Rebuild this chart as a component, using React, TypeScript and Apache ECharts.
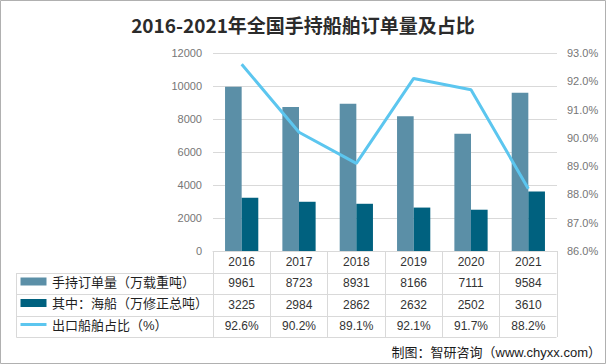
import React, { useEffect, useRef } from "react";
import * as echarts from "echarts";

const years = ["2016", "2017", "2018", "2019", "2020", "2021"];
const orderBook = [9961, 8723, 8931, 8166, 7111, 9584];
const seaShips = [3225, 2984, 2862, 2632, 2502, 3610];
const exportShare = [92.6, 90.2, 89.1, 92.1, 91.7, 88.2];

const seriesNames = ["手持订单量（万载重吨）", "其中：海船（万修正总吨）", "出口船舶占比（%）"];
const titleText = "2016-2021年全国手持船舶订单量及占比";
const sourceText = "制图：智研咨询（www.chyxx.com）";

const leftAxis = { min: 0, max: 12000, interval: 2000 };
const rightAxis = { min: 86, max: 93, interval: 1 };

const C_LIGHT = "#5b8fa7";
const C_DARK = "#00617f";
const C_LINE = "#5cc6ef";
const C_GRID = "#d9d9d9";
const FONT = "'Liberation Sans','Noto Sans CJK SC',sans-serif";

export default function App() {
  const ref = useRef<HTMLDivElement>(null);
  useEffect(() => {
    document.body.style.margin = "0";
    const chart = echarts.init(ref.current!, null, { renderer: "svg" });
    const option: any = {
      animation: false,
      backgroundColor: "#ffffff",
      grid: { left: 213, right: 49, top: 53, bottom: 113, containLabel: false },
      xAxis: {
        type: "category",
        data: years,
        axisLine: { show: true, lineStyle: { color: C_GRID, width: 1 } },
        axisTick: { show: true, length: 86, lineStyle: { color: C_GRID, width: 1 } },
        axisLabel: { margin: 5, color: "#333", fontSize: 12, fontFamily: FONT },
      },
      yAxis: [
        {
          type: "value",
          ...leftAxis,
          axisLine: { show: false },
          axisTick: { show: false },
          splitLine: { show: true, lineStyle: { color: C_GRID, width: 1 } },
          axisLabel: {
            margin: 11,
            color: "#767676",
            fontSize: 11,
            fontFamily: FONT,
            formatter: (v: number) => String(v),
          },
        },
        {
          type: "value",
          ...rightAxis,
          position: "right",
          axisLine: { show: false },
          axisTick: { show: false },
          splitLine: { show: false },
          axisLabel: {
            margin: 10,
            color: "#767676",
            fontSize: 11,
            fontFamily: FONT,
            formatter: (v: number) => v.toFixed(1) + "%",
          },
        },
      ],
      series: [
        {
          name: seriesNames[0],
          type: "bar",
          data: orderBook,
          itemStyle: { color: C_LIGHT },
          barGap: "0%",
          barCategoryGap: "42%",
        },
        {
          name: seriesNames[1],
          type: "bar",
          data: seaShips,
          itemStyle: { color: C_DARK },
          barGap: "0%",
          barCategoryGap: "42%",
        },
        {
          name: seriesNames[2],
          type: "line",
          yAxisIndex: 1,
          data: exportShare,
          showSymbol: false,
          symbol: "none",
          lineStyle: { color: C_LINE, width: 3 },
          itemStyle: { color: C_LINE },
          z: 5,
        },
      ],
    };
    chart.setOption(option);

    const xs = years.map((y) => chart.convertToPixel({ xAxisIndex: 0 }, y) as number);
    const rowY = [283, 304.5, 326];
    const rowLines = [272.5, 294, 315.5, 337];
    const left = 16.5;
    const right = 556.5;
    const g: any[] = [];
    g.push({
      type: "rect",
      shape: { x: 0.5, y: 0.5, width: 605, height: 363 },
      style: { fill: "none", stroke: "#b0b0b0", lineWidth: 1 },
      silent: true,
    });
    g.push({
      type: "text",
      x: 303,
      y: 24,
      style: {
        text: titleText,
        fontSize: 19,
        fontWeight: "bold",
        fontFamily: "'Noto Sans CJK SC',sans-serif",
        fill: "#2b2b2b",
        align: "center",
        verticalAlign: "middle",
      },
    });
    rowLines.forEach((ly) => {
      g.push({
        type: "line",
        shape: { x1: left, y1: Math.round(ly) + 0.5, x2: right, y2: Math.round(ly) + 0.5 },
        style: { stroke: C_GRID, lineWidth: 1 },
      });
    });
    g.push({
      type: "line",
      shape: { x1: left, y1: 273, x2: left, y2: 337.5 },
      style: { stroke: C_GRID, lineWidth: 1 },
    });
    g.push({
      type: "rect",
      shape: { x: 20.5, y: rowY[0] - 5.5, width: 26, height: 8 },
      style: { fill: C_LIGHT },
    });
    g.push({
      type: "rect",
      shape: { x: 20.5, y: rowY[1] - 5.5, width: 26, height: 8 },
      style: { fill: C_DARK },
    });
    g.push({
      type: "line",
      shape: { x1: 20.5, y1: rowY[2] - 1.5, x2: 46.5, y2: rowY[2] - 1.5 },
      style: { stroke: C_LINE, lineWidth: 3 },
    });
    seriesNames.forEach((n, i) => {
      g.push({
        type: "text",
        x: 52,
        y: rowY[i] - 1,
        style: {
          text: n,
          fontSize: 13,
          fontFamily: FONT,
          fill: "#1f1f1f",
          align: "left",
          verticalAlign: "middle",
        },
      });
    });
    const rows = [
      orderBook.map((v) => String(v)),
      seaShips.map((v) => String(v)),
      exportShare.map((v) => v.toFixed(1) + "%"),
    ];
    rows.forEach((r, ri) => {
      r.forEach((t, ci) => {
        g.push({
          type: "text",
          x: xs[ci],
          y: rowY[ri],
          style: {
            text: t,
            fontSize: 12,
            fontFamily: FONT,
            fill: "#333",
            align: "center",
            verticalAlign: "middle",
          },
        });
      });
    });
    g.push({
      type: "text",
      x: 601,
      y: 352.5,
      style: {
        text: sourceText,
        fontSize: 13,
        fontFamily: FONT,
        fill: "#1a1a1a",
        align: "right",
        verticalAlign: "middle",
      },
    });
    chart.setOption({ graphic: g });
    return () => chart.dispose();
  }, []);
  return (
    <div
      ref={ref}
      style={{ position: "absolute", left: 0, top: 0, width: 606, height: 364 }}
    />
  );
}
